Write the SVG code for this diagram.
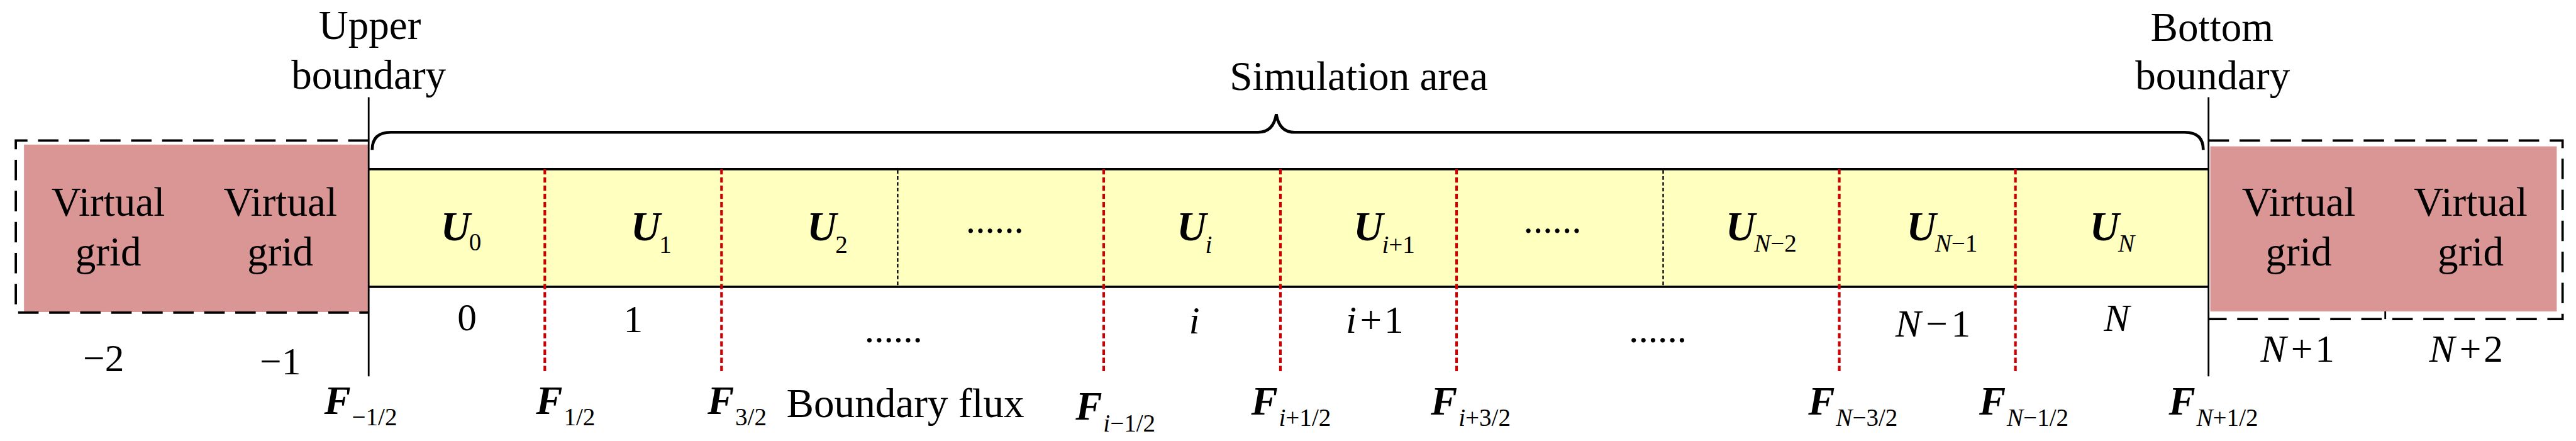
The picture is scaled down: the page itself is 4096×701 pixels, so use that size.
<svg xmlns="http://www.w3.org/2000/svg" width="4096" height="701" viewBox="0 0 4096 701">
<style>
text{font-family:"Liberation Serif","Times New Roman",serif;fill:#000}
.lbl{font-size:70px;text-anchor:middle}
.num{font-size:66px;text-anchor:middle}
.U{font-size:70px;font-weight:bold;font-style:italic}
.F{font-size:68px;font-weight:bold;font-style:italic}
.sub{font-size:42px;font-weight:normal;font-style:normal}
.it{font-style:italic}
.dots{font-size:66px;text-anchor:middle}
.virt{fill:#d99694}
.dash{fill:none;stroke:#000;stroke-width:4;stroke-dasharray:35 18}
.flux{stroke:#cc0000;stroke-width:4.5;stroke-dasharray:9 5}
.cellsep{stroke:#000;stroke-width:2.5;stroke-dasharray:6 4}
.bnd{stroke:#000;stroke-width:3}
</style>
<rect width="4096" height="701" fill="#fff"/>
<g transform="scale(0.9305)">
  <g id="virtual-left">
    <rect class="virt" x="41" y="247" width="589" height="286"/>
    <path class="dash" d="M630 240 H27 V534 H630"/>
    <text class="lbl" x="185" y="369">Virtual</text>
    <text class="lbl" x="185" y="454">grid</text>
    <text class="lbl" x="479" y="369">Virtual</text>
    <text class="lbl" x="479" y="454">grid</text>
    <text class="num" x="177" y="634">−2</text>
    <text class="num" x="479" y="639">−1</text>
  </g>
  <g id="virtual-right">
    <rect class="virt" x="3777" y="250" width="592" height="282"/>
    <path class="dash" d="M3774 240 H4379 V545 H3774"/>
    <line x1="4076" y1="532" x2="4076" y2="545" stroke="#000" stroke-width="3"/>
    <text class="lbl" x="3928" y="369">Virtual</text>
    <text class="lbl" x="3928" y="454">grid</text>
    <text class="lbl" x="4222" y="369">Virtual</text>
    <text class="lbl" x="4222" y="454">grid</text>
    <text class="num" x="3926" y="618"><tspan class="it">N</tspan><tspan dx="8">+</tspan><tspan dx="4">1</tspan></text>
    <text class="num" x="4214" y="618"><tspan class="it">N</tspan><tspan dx="8">+</tspan><tspan dx="4">2</tspan></text>
  </g>
  <g id="simulation-area">
    <rect x="630" y="289" width="3144" height="201" fill="#ffffbf"/>
    <line x1="630" y1="289" x2="3774" y2="289" stroke="#000" stroke-width="4"/>
    <line x1="630" y1="490" x2="3774" y2="490" stroke="#000" stroke-width="4"/>
    <path d="M636 256 Q636 226 668 226 L2150 226 Q2176 226 2181 195 Q2186 226 2212 226 L3733 226 Q3765 226 3765 256" fill="none" stroke="#000" stroke-width="5"/>
    <text class="lbl" x="2322" y="154">Simulation area</text>
  </g>
  <g id="cells">
    <text class="U" x="753" y="410">U<tspan class="sub" dx="-2" dy="18">0</tspan></text>
    <text class="U" x="1078" y="410">U<tspan class="sub" dx="-2" dy="22">1</tspan></text>
    <text class="U" x="1379" y="410">U<tspan class="sub" dx="-2" dy="22">2</tspan></text>
    <text class="dots" x="1700" y="398">......</text>
    <text class="U" x="2011" y="410">U<tspan class="sub it" dx="-2" dy="22">i</tspan></text>
    <text class="U" x="2313" y="410">U<tspan class="sub it" dx="-2" dy="22">i</tspan><tspan class="sub">+1</tspan></text>
    <text class="dots" x="2653" y="398">......</text>
    <text class="U" x="2949" y="410">U<tspan class="sub it" dx="-2" dy="20">N</tspan><tspan class="sub">−2</tspan></text>
    <text class="U" x="3258" y="410">U<tspan class="sub it" dx="-2" dy="20">N</tspan><tspan class="sub">−1</tspan></text>
    <text class="U" x="3571" y="410">U<tspan class="sub it" dx="-2" dy="20">N</tspan></text>
  </g>
  <g id="cell-indices">
    <text class="num" x="798" y="564">0</text>
    <text class="num" x="1082" y="567">1</text>
    <text class="dots" x="1527" y="585">......</text>
    <text class="num it" x="2041" y="570">i</text>
    <text class="num" x="2349" y="568"><tspan class="it">i</tspan><tspan dx="6">+</tspan><tspan dx="4">1</tspan></text>
    <text class="dots" x="2833" y="585">......</text>
    <text class="num" x="3303" y="575"><tspan class="it">N</tspan><tspan dx="8">−</tspan><tspan dx="6">1</tspan></text>
    <text class="num it" x="3617" y="565">N</text>
  </g>
  <g id="connectors">
    <line class="bnd" x1="630" y1="166" x2="630" y2="643"/>
    <line class="bnd" x1="3774" y1="166" x2="3774" y2="643"/>
    <line class="flux" x1="931" y1="289" x2="931" y2="634"/>
    <line class="flux" x1="1233" y1="289" x2="1233" y2="634"/>
    <line class="flux" x1="1886" y1="289" x2="1886" y2="634"/>
    <line class="flux" x1="2188" y1="289" x2="2188" y2="634"/>
    <line class="flux" x1="2489" y1="289" x2="2489" y2="634"/>
    <line class="flux" x1="3143" y1="289" x2="3143" y2="634"/>
    <line class="flux" x1="3444" y1="289" x2="3444" y2="634"/>
    <line class="cellsep" x1="1534" y1="291" x2="1534" y2="488"/>
    <line class="cellsep" x1="2842" y1="291" x2="2842" y2="488"/>
  </g>
  <g id="boundary-labels">
    <text class="lbl" x="632" y="67">Upper</text>
    <text class="lbl" x="630" y="152">boundary</text>
    <text class="lbl" x="3780" y="70">Bottom</text>
    <text class="lbl" x="3781" y="153">boundary</text>
  </g>
  <g id="flux-labels">
    <text class="F" x="554" y="707">F<tspan class="sub" dx="2" dy="20">−1/2</tspan></text>
    <text class="F" x="916" y="707">F<tspan class="sub" dx="2" dy="20">1/2</tspan></text>
    <text class="F" x="1209" y="707">F<tspan class="sub" dx="2" dy="20">3/2</tspan></text>
    <text class="lbl" x="1344" y="713" style="text-anchor:start">Boundary flux</text>
    <text class="F" x="1838" y="717">F<tspan class="sub it" dx="2" dy="20">i</tspan><tspan class="sub">−1/2</tspan></text>
    <text class="F" x="2138" y="708">F<tspan class="sub it" dx="2" dy="20">i</tspan><tspan class="sub">+1/2</tspan></text>
    <text class="F" x="2445" y="708">F<tspan class="sub it" dx="2" dy="20">i</tspan><tspan class="sub">+3/2</tspan></text>
    <text class="F" x="3090" y="708">F<tspan class="sub it" dx="2" dy="20">N</tspan><tspan class="sub">−3/2</tspan></text>
    <text class="F" x="3382" y="708">F<tspan class="sub it" dx="2" dy="20">N</tspan><tspan class="sub">−1/2</tspan></text>
    <text class="F" x="3706" y="708">F<tspan class="sub it" dx="2" dy="20">N</tspan><tspan class="sub">+1/2</tspan></text>
  </g>
</g>
</svg>
